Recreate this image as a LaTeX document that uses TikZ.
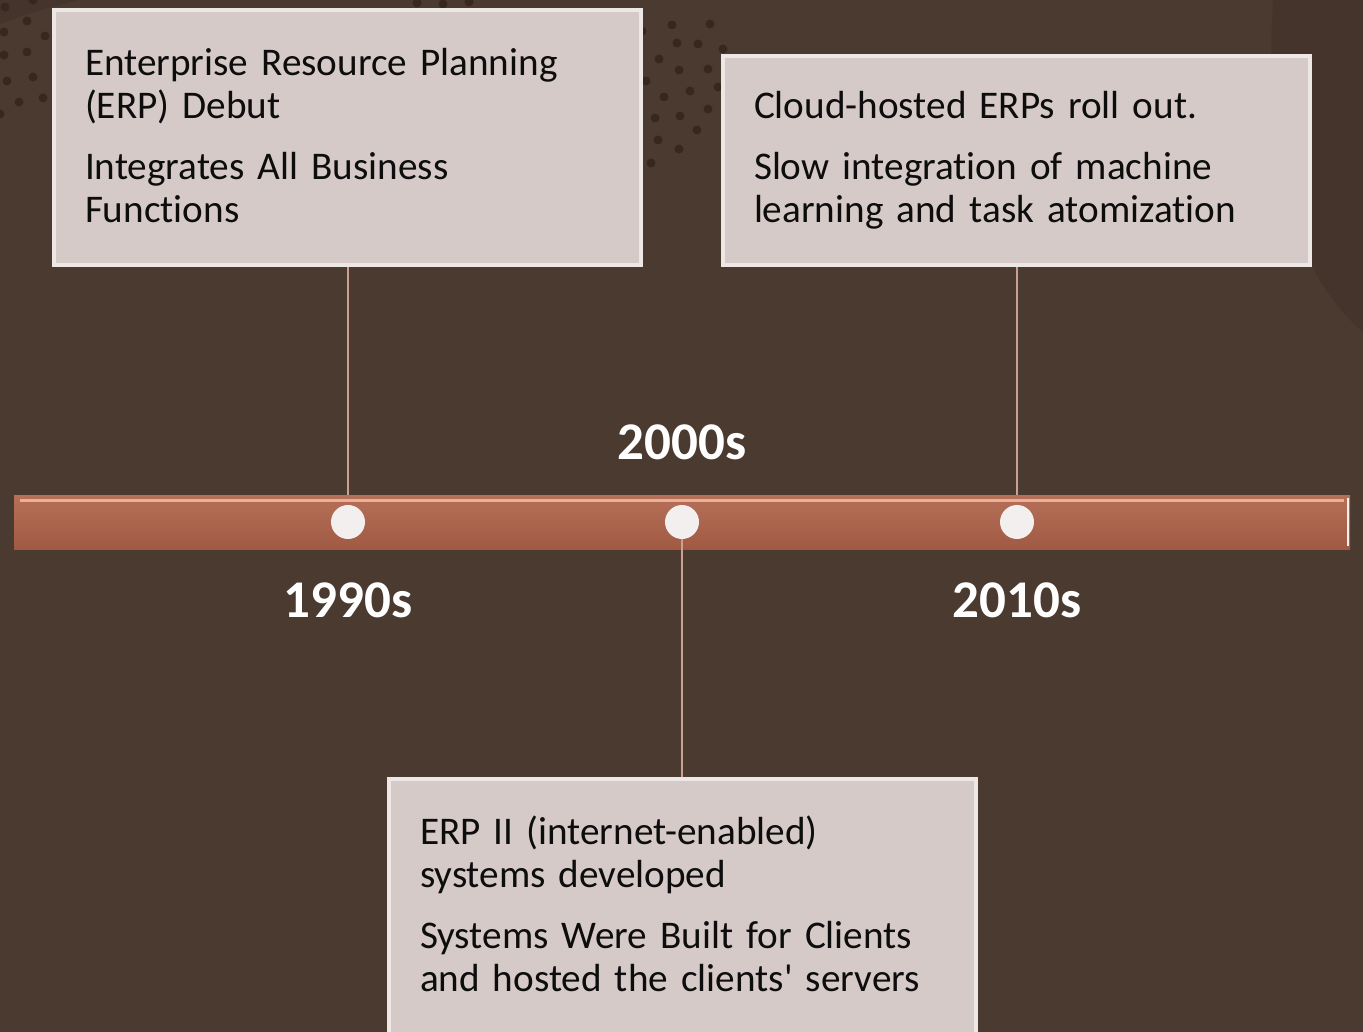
\documentclass[tikz,border=0pt]{standalone}
\usepackage{fontspec}
\setmainfont{Carlito}[Ligatures=NoCommon]
\usetikzlibrary{positioning, calc}
\definecolor{bgbrown}{HTML}{4B3A30}
\definecolor{shadebrown}{HTML}{44342B}
\definecolor{spotbrown}{HTML}{36281F}
\definecolor{boxfill}{HTML}{D5CAC7}
\definecolor{boxedge}{HTML}{EDE7E5}
\definecolor{bartop}{HTML}{B77058}
\definecolor{barbot}{HTML}{A05943}
\definecolor{barshine}{HTML}{EBB099}
\definecolor{stemcol}{HTML}{C9A091}
\definecolor{pearl}{HTML}{F3EFEF}
\tikzset{evbox/.style={draw=boxedge, line width=4, fill=boxfill, anchor=north west, inner xsep=31, inner ysep=0, text width=525, align=left, text=black!95, font=\fontsize{39.2}{43.5}\selectfont}}
\tikzset{pearl/.style={circle, fill=pearl, minimum size=34, inner sep=0}}
\tikzset{yrlab/.style={text=white, inner sep=0, font=\fontsize{53}{56}\selectfont\bfseries}}
\tikzset{stem/.style={draw=stemcol, line width=1.6}}
\tikzset{spot/.style={fill=spotbrown}}

\begin{document}
\begin{tikzpicture}[x=1pt, y=-1pt]
		\fill[bgbrown] (0,0) rectangle (1363,1032);
		\useasboundingbox (0,0) rectangle (1363,1032);
		\fill[shadebrown] (0,0) -- (0,24) .. controls (25,14) and (50,7) .. (80,0) -- cycle;
		\fill[shadebrown] (1273,0) .. controls (1264,150) and (1290,270) .. (1363,332) -- (1363,0) -- cycle;
		% dotted patches
		\foreach \px/\py in {5/7, 33/0, 27/21, 4/32, 45/36, 4/55, 27/52, 7/81, 33/77, 19/102, 43/98, 0/114, 417/3, 443/4, 469/2,
			672/25, 710/24, 642/31, 677/43, 698/44, 723/49, 659/59, 679/70, 708/69, 646/81, 664/97, 690/91, 718/87,
			655/118, 680/116, 708/109, 697/130, 658/140, 679/149, 651/163}
			\fill[spot] (\px,\py) circle (4.5);
		\node[evbox, minimum height=255] (b90) at (52,8)
			{Enterprise Resource Planning\\(ERP) Debut\\[17pt]Integrates All Business\\Functions\par\vspace*{4pt}};
		\node[evbox, minimum height=209] (b10) at (721,54)
			{Cloud-hosted ERPs roll out.\\[17pt]Slow integration of machine\\learning and task atomization};
		\node[evbox, minimum height=260] (b00) at (387,777)
			{ERP II (internet-enabled)\\systems developed\\[17pt]Systems Were Built for Clients\\and hosted the clients\textquotesingle{} servers\par\vspace*{10pt}};
		\node[top color=bartop, bottom color=barbot, minimum width=1336, minimum height=54, inner sep=0] (bar) at (682,522) {};
		\draw[barshine, line width=3] ($(bar.north west)+(6,6)$) -- ($(bar.north east)+(-6,6)$);
		\draw[white!80!barshine, line width=2.5] ($(bar.north east)+(-2,3)$) -- ($(bar.south east)+(-2,-3)$);
		\node[pearl] (d90) at (348,522) {};
		\node[pearl] (d00) at (682,522) {};
		\node[pearl] (d10) at (1017,522) {};
		\draw[stem] (b90.south -| d90) -- (bar.north -| d90);
		\draw[stem] (b10.south -| d10) -- (bar.north -| d10);
		\draw[stem] (d00.south) -- (b00.north -| d00);
		\node[yrlab] (y90) at (348,600) {1990s};
		\node[yrlab] (y00) at (682,442) {2000s};
		\node[yrlab] (y10) at (1017,600) {2010s};
	\end{tikzpicture}
\end{document}
